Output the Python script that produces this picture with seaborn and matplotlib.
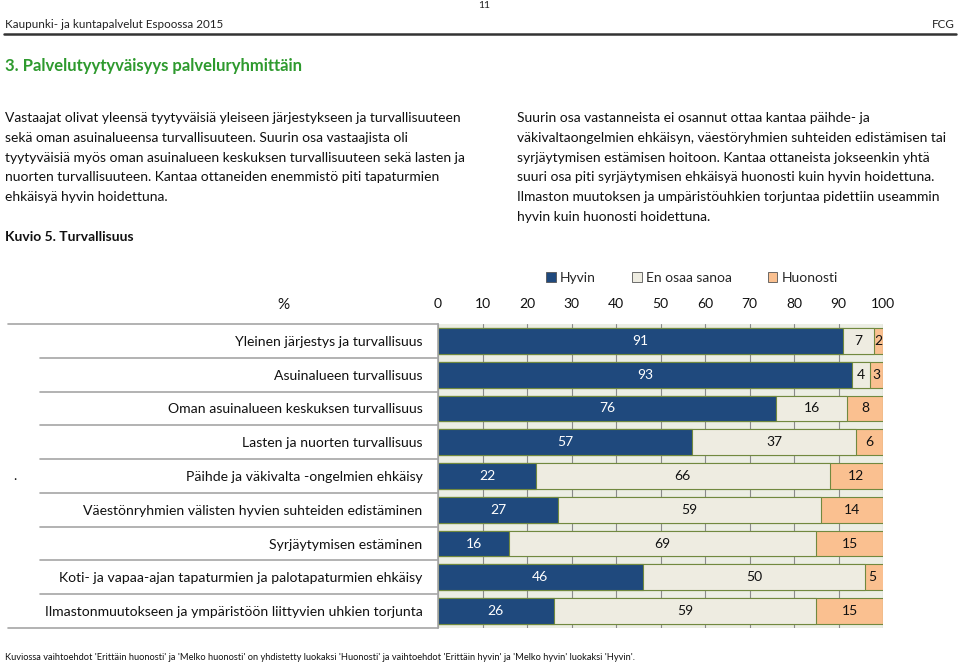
import matplotlib
matplotlib.use("Agg")
import numpy as np
import pandas as pd
import matplotlib.pyplot as plt
import matplotlib.transforms as mtransforms
from matplotlib.lines import Line2D
from matplotlib.patches import Patch
import seaborn as sns

# ── Data ─────────────────────────────────────────────────────────────────────
CATEGORIES = [
    "Yleinen järjestys ja turvallisuus",
    "Asuinalueen turvallisuus",
    "Oman asuinalueen keskuksen turvallisuus",
    "Lasten ja nuorten turvallisuus",
    "Päihde ja väkivalta -ongelmien ehkäisy",
    "Väestönryhmien välisten hyvien suhteiden edistäminen",
    "Syrjäytymisen estäminen",
    "Koti- ja vapaa-ajan tapaturmien ja palotapaturmien ehkäisy",
    "Ilmastonmuutokseen ja ympäristöön liittyvien uhkien torjunta",
]
HYVIN    = [91, 93, 76, 57, 22, 27, 16, 46, 26]
EN_OSAA  = [7, 4, 16, 37, 66, 59, 69, 50, 59]
HUONOSTI = [2, 3, 8, 6, 12, 14, 15, 5, 15]
SERIES   = ["Hyvin", "En osaa sanoa", "Huonosti"]
XTICKS   = list(range(0, 101, 10))

HEADER_LEFT = "Kaupunki- ja kuntapalvelut Espoossa 2015"
PAGE_NO = "11"
TITLE = "3. Palvelutyytyväisyys palveluryhmittäin"
LEFT_PARA = [
    "Vastaajat olivat yleensä tyytyväisiä yleiseen järjestykseen ja turvallisuuteen",
    "sekä oman asuinalueensa turvallisuuteen. Suurin osa vastaajista oli",
    "tyytyväisiä myös oman asuinalueen keskuksen turvallisuuteen sekä lasten ja",
    "nuorten turvallisuuteen. Kantaa ottaneiden enemmistö piti tapaturmien",
    "ehkäisyä hyvin hoidettuna.",
]
RIGHT_PARA = [
    "Suurin osa vastanneista ei osannut ottaa kantaa päihde- ja",
    "väkivaltaongelmien ehkäisyn, väestöryhmien suhteiden edistämisen tai",
    "syrjäytymisen estämisen hoitoon. Kantaa ottaneista jokseenkin yhtä",
    "suuri osa piti syrjäytymisen ehkäisyä huonosti kuin hyvin hoidettuna.",
    "Ilmaston muutoksen ja umpäristöuhkien torjuntaa pidettiin useammin",
    "hyvin kuin huonosti hoidettuna.",
]
CAPTION = "Kuvio 5. Turvallisuus"
FOOTNOTE = ("Kuviossa vaihtoehdot 'Erittäin huonosti' ja 'Melko huonosti' on yhdistetty "
            "luokaksi 'Huonosti' ja vaihtoehdot 'Erittäin hyvin' ja 'Melko hyvin' luokaksi 'Hyvin'.")

BLUE   = "#1F497D"
BEIGE  = "#EEECE1"
ORANGE = "#FAC090"
EDGE   = "#71893F"
GREEN  = "#2E9A2E"
SEP    = "#A6A6A6"

sns.set_theme(style="white")
plt.rcParams["font.family"] = ["Lato", "DejaVu Sans"]

W, H = 960, 665
fig = plt.figure(figsize=(W / 100, H / 100), dpi=100)


def fx(x):
    return x / W


def fy(y):
    return 1 - y / H


# ── Page text ────────────────────────────────────────────────────────────────
fig.text(fx(484), fy(6), PAGE_NO, ha="center", va="center", fontsize=7.5, color="#222222")
fig.text(fx(5), fy(25), HEADER_LEFT, ha="left", va="center", fontsize=8.4, color="#222222")
fig.text(fx(955), fy(25), "FCG", ha="right", va="center", fontsize=8.4, color="#222222")
fig.add_artist(Line2D([fx(4), fx(956)], [fy(34), fy(34)], color="#333333", lw=1.8))

fig.text(fx(5), fy(66), TITLE, ha="left", va="center", fontsize=12,
         fontweight="bold", color=GREEN)

for i, line in enumerate(LEFT_PARA):
    fig.text(fx(5), fy(118 + i * 19.8), line, ha="left", va="center",
             fontsize=10, color="#111111")
for i, line in enumerate(RIGHT_PARA):
    fig.text(fx(517), fy(118 + i * 19.8), line, ha="left", va="center",
             fontsize=10, color="#111111")
fig.text(fx(5), fy(237), CAPTION, ha="left", va="center", fontsize=10,
         fontweight="bold", color="#111111")

fig.text(fx(283), fy(305), "%", ha="center", va="center", fontsize=11, color="#111111")
fig.text(fx(15), fy(476), ".", ha="center", va="center", fontsize=10, color="#111111")
fig.text(fx(5), fy(658), FOOTNOTE, ha="left", va="center", fontsize=6.7, color="#111111")

# ── Chart ────────────────────────────────────────────────────────────────────
ax = fig.add_axes([fx(438), fy(628), (883 - 438) / W, (628 - 324) / H])
ax.set_facecolor("#ECEEE4")

df = pd.DataFrame({
    "kategoria": CATEGORIES,
    "Hyvin": HYVIN,
    "En osaa sanoa": EN_OSAA,
    "Huonosti": HUONOSTI,
})
df["c1"] = df["Hyvin"]
df["c2"] = df["c1"] + df["En osaa sanoa"]
df["c3"] = df["c2"] + df["Huonosti"]

# stacked by overdrawing cumulative totals
for col, color in [("c3", ORANGE), ("c2", BEIGE), ("c1", BLUE)]:
    sns.barplot(data=df, x=col, y="kategoria", orient="h", color=color,
                width=0.76, edgecolor=EDGE, linewidth=0.8, saturation=1, ax=ax)

for i, row in df.iterrows():
    starts = [0, row["c1"], row["c2"]]
    vals = [row["Hyvin"], row["En osaa sanoa"], row["Huonosti"]]
    for s, v, c in zip(starts, vals, ["white", "#111111", "#111111"]):
        xc = s + v / 2 if s + v <= 100 else 100 - v / 2
        ax.text(xc, i, str(v), ha="center", va="center", color=c, fontsize=10)

ax.set_xlim(0, 100)
ax.set_ylim(len(CATEGORIES) - 0.5, -0.5)
ax.xaxis.tick_top()
ax.set_xticks(XTICKS)
ax.set_xlabel("")
ax.set_ylabel("")
ax.tick_params(axis="x", length=0, pad=10, labelsize=10, labelcolor="#111111")
ax.tick_params(axis="y", length=0, pad=11, labelsize=10.1, labelcolor="#111111")
ax.grid(axis="x", color="#8A8A8A", lw=0.8)
ax.grid(axis="y", visible=False)
ax.set_axisbelow(True)
for side in ["top", "right", "bottom"]:
    ax.spines[side].set_visible(False)
ax.spines["left"].set_color(SEP)
ax.spines["left"].set_linewidth(1.2)

# separator lines in the label column
trans = mtransforms.blended_transform_factory(ax.transAxes, ax.transData)
n = len(CATEGORIES)
for b in np.arange(-0.5, n):
    x0 = -0.966 if b in (-0.5, n - 0.5) else -0.894
    ax.plot([x0, 0], [b, b], transform=trans, color=SEP, lw=1.2, clip_on=False)

handles = [Patch(facecolor=c, edgecolor="#555555", lw=0.6) for c in [BLUE, BEIGE, ORANGE]]
fig.legend(handles, SERIES, loc="center", bbox_to_anchor=(fx(692), fy(278)), ncol=3,
           frameon=False, handlelength=0.7, handleheight=0.7, handletextpad=0.3,
           columnspacing=2.6, fontsize=10)

fig.savefig("out.png", dpi=100)
